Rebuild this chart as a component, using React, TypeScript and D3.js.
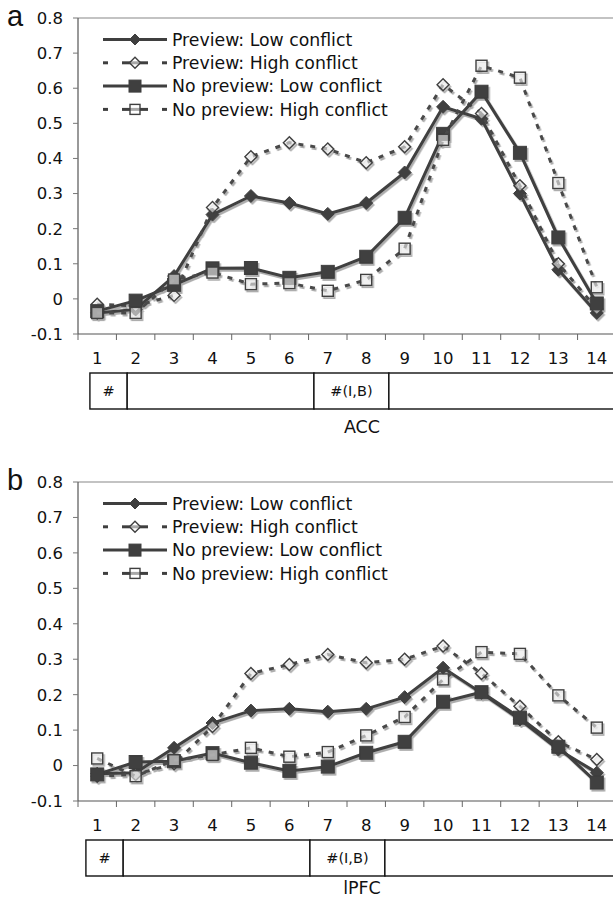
import React from "react";
import * as d3 from "d3";

const categories = [1, 2, 3, 4, 5, 6, 7, 8, 9, 10, 11, 12, 13, 14];
const yTicks = [-0.1, 0, 0.1, 0.2, 0.3, 0.4, 0.5, 0.6, 0.7, 0.8];
const seriesNames = [
  "Preview: Low conflict",
  "Preview: High conflict",
  "No preview: Low conflict",
  "No preview: High conflict",
];

// ACC
const accPreviewLow = [-0.04, -0.03, 0.065, 0.24, 0.293, 0.273, 0.242, 0.273, 0.36, 0.547, 0.513, 0.3, 0.083, -0.04];
const accPreviewHigh = [-0.015, -0.02, 0.01, 0.26, 0.405, 0.445, 0.427, 0.388, 0.433, 0.61, 0.528, 0.322, 0.1, -0.028];
const accNoPreviewLow = [-0.035, -0.005, 0.04, 0.087, 0.088, 0.06, 0.077, 0.12, 0.231, 0.47, 0.59, 0.416, 0.175, -0.013];
const accNoPreviewHigh = [-0.04, -0.04, 0.055, 0.075, 0.042, 0.045, 0.023, 0.054, 0.143, 0.453, 0.664, 0.63, 0.33, 0.033];

// lPFC
const lpfcPreviewLow = [-0.023, -0.02, 0.05, 0.12, 0.155, 0.16, 0.152, 0.16, 0.193, 0.276, 0.205, 0.13, 0.045, -0.02];
const lpfcPreviewHigh = [-0.03, -0.025, 0.005, 0.11, 0.26, 0.285, 0.313, 0.29, 0.3, 0.337, 0.26, 0.167, 0.067, 0.017];
const lpfcNoPreviewLow = [-0.025, 0.01, 0.012, 0.035, 0.008, -0.015, -0.003, 0.036, 0.067, 0.18, 0.207, 0.135, 0.053, -0.048];
const lpfcNoPreviewHigh = [0.02, -0.03, 0.015, 0.03, 0.05, 0.025, 0.038, 0.085, 0.137, 0.243, 0.32, 0.315, 0.198, 0.107];

// trial timeline under the axis, in category units
const timelineEdges = [0.81, 1.78, 6.64, 8.59, 14.6];
const timelineLabels = ["#", "", "#(I,B)", ""];

const styles = [
  { shape: "diamond", filled: true, dashed: false },
  { shape: "diamond", filled: false, dashed: true },
  { shape: "square", filled: true, dashed: false },
  { shape: "square", filled: false, dashed: true },
];

const dark = "#3f3f3f";
const font = "'DejaVu Sans', Verdana, sans-serif";

const Marker = ({ x, y, shape, filled, size }) => {
  if (shape === "diamond") {
    const r = size / 2;
    return (
      <path
        d={`M${x},${y - r}L${x + r},${y}L${x},${y + r}L${x - r},${y}Z`}
        fill={filled ? dark : "#fff"}
        fillOpacity={filled ? 1 : 0.55}
        stroke={dark}
        strokeWidth={filled ? 1 : 1.4}
      />
    );
  }
  return (
    <rect
      x={x - size / 2}
      y={y - size / 2}
      width={size}
      height={size}
      fill={filled ? dark : "#fff"}
      fillOpacity={filled ? 1 : 0.55}
      stroke={dark}
      strokeWidth={filled ? 1 : 1.4}
    />
  );
};

const Panel = ({ top, bottom, boxShift, letter, title, titleY, series }) => {
  const left = 78;
  const right = 616;
  const x = d3.scaleBand().domain(categories).range([left, right]).paddingInner(0);
  const cx = (c) => x(c) + x.bandwidth() / 2;
  const xi = d3.scaleLinear().domain([1, 14]).range([cx(1), cx(14)]);
  const y = d3.scaleLinear().domain([-0.1, 0.8]).range([bottom, top]);

  const line = d3
    .line()
    .x((d, i) => cx(categories[i]))
    .y((d) => y(d));

  const boxTop = bottom + 39;
  const boxBottom = bottom + 75;

  return (
    <g>
      <text x={7} y={top + 8} fontFamily="'Liberation Sans', Arial, sans-serif" fontSize={29} fill="#111">
        {letter}
      </text>
      {/* plot frame */}
      <line x1={left} x2={right} y1={top} y2={top} stroke="#888" strokeWidth={1.2} />
      <line x1={left} x2={left} y1={top} y2={bottom} stroke="#555" strokeWidth={1.2} />
      <line x1={left} x2={right} y1={bottom} y2={bottom} stroke="#555" strokeWidth={1.2} />
      {yTicks.map((t) => (
        <g key={t}>
          <line x1={left - 5} x2={left} y1={y(t)} y2={y(t)} stroke="#777" />
          <text
            x={63}
            y={y(t)}
            dy="0.36em"
            textAnchor="end"
            fontFamily={font}
            fontSize={16.5}
            fill="#111"
          >
            {d3.format(".1f")(t).replace("0.0", "0").replace("−", "-")}
          </text>
        </g>
      ))}
      {categories.map((c) => (
        <g key={c}>
          <line x1={x(c)} x2={x(c)} y1={bottom} y2={bottom + 6} stroke="#666" />
          <text x={cx(c)} y={bottom + 30} textAnchor="middle" fontFamily={font} fontSize={16.5} fill="#111">
            {c}
          </text>
        </g>
      ))}
      <line x1={right} x2={right} y1={bottom} y2={bottom + 6} stroke="#666" />

      {/* timeline boxes */}
      {timelineLabels.map((lab, i) => {
        const x0 = xi(timelineEdges[i]) + boxShift;
        const x1 = xi(timelineEdges[i + 1]) + boxShift;
        return (
          <g key={i}>
            <rect x={x0} y={boxTop} width={x1 - x0} height={boxBottom - boxTop} fill="#fff" stroke="#111" strokeWidth={1.4} />
            <text
              x={(x0 + x1) / 2}
              y={(boxTop + boxBottom) / 2}
              dy="0.36em"
              textAnchor="middle"
              fontFamily={font}
              fontSize={14.5}
              fill="#111"
            >
              {lab}
            </text>
          </g>
        );
      })}
      <text x={362} y={titleY} textAnchor="middle" fontFamily={font} fontSize={17.5} fill="#111">
        {title}
      </text>

      {/* legend */}
      {seriesNames.map((name, i) => {
        const ly = top + 21.5 + i * 23.3;
        const s = styles[i];
        return (
          <g key={name}>
            {s.dashed ? (
              <g stroke={dark} strokeWidth={3}>
                <line x1={103} x2={108} y1={ly} y2={ly} />
                <line x1={122} x2={148} y1={ly} y2={ly} />
                <line x1={162} x2={167} y1={ly} y2={ly} />
              </g>
            ) : (
              <line x1={103} x2={167} y1={ly} y2={ly} stroke={dark} strokeWidth={3} />
            )}
            <Marker
              x={135}
              y={ly}
              shape={s.shape}
              filled={s.filled}
              size={s.shape === "square" ? (s.filled ? 12 : 10) : 11}
            />
            <text x={172} y={ly} dy="0.36em" fontFamily={font} fontSize={17.3} fill="#111">
              {name}
            </text>
          </g>
        );
      })}

      {/* series */}
      <g filter="url(#shadow)">
        {series.map((vals, i) => {
          const s = styles[i];
          return (
            <g key={i}>
              <path
                d={line(vals)}
                fill="none"
                stroke={s.dashed ? "#4a4a4a" : dark}
                strokeWidth={3}
                strokeDasharray={s.dashed ? "5,7" : null}
              />
              {vals.map((v, j) => (
                <Marker
                  key={j}
                  x={cx(categories[j])}
                  y={y(v)}
                  shape={s.shape}
                  filled={s.filled}
                  size={s.shape === "square" ? (s.filled ? 13 : 11) : s.filled ? 13 : 12}
                />
              ))}
            </g>
          );
        })}
      </g>
    </g>
  );
};

export default function App() {
  return (
    <div style={{ position: "absolute", left: 0, top: 0 }}>
      <svg width={613} height={899} style={{ display: "block", background: "#fff" }}>
        <defs>
          <filter id="shadow" x="-10%" y="-10%" width="120%" height="120%">
            <feDropShadow dx={1.5} dy={2} stdDeviation={0.7} floodColor="#777" floodOpacity={0.6} />
          </filter>
        </defs>
        <Panel
          top={18}
          bottom={334}
          boxShift={0}
          letter="a"
          title="ACC"
          titleY={433}
          series={[accPreviewLow, accPreviewHigh, accNoPreviewLow, accNoPreviewHigh]}
        />
        <Panel
          top={482}
          bottom={801}
          boxShift={-4}
          letter="b"
          title="lPFC"
          titleY={894}
          series={[lpfcPreviewLow, lpfcPreviewHigh, lpfcNoPreviewLow, lpfcNoPreviewHigh]}
        />
      </svg>
    </div>
  );
}
